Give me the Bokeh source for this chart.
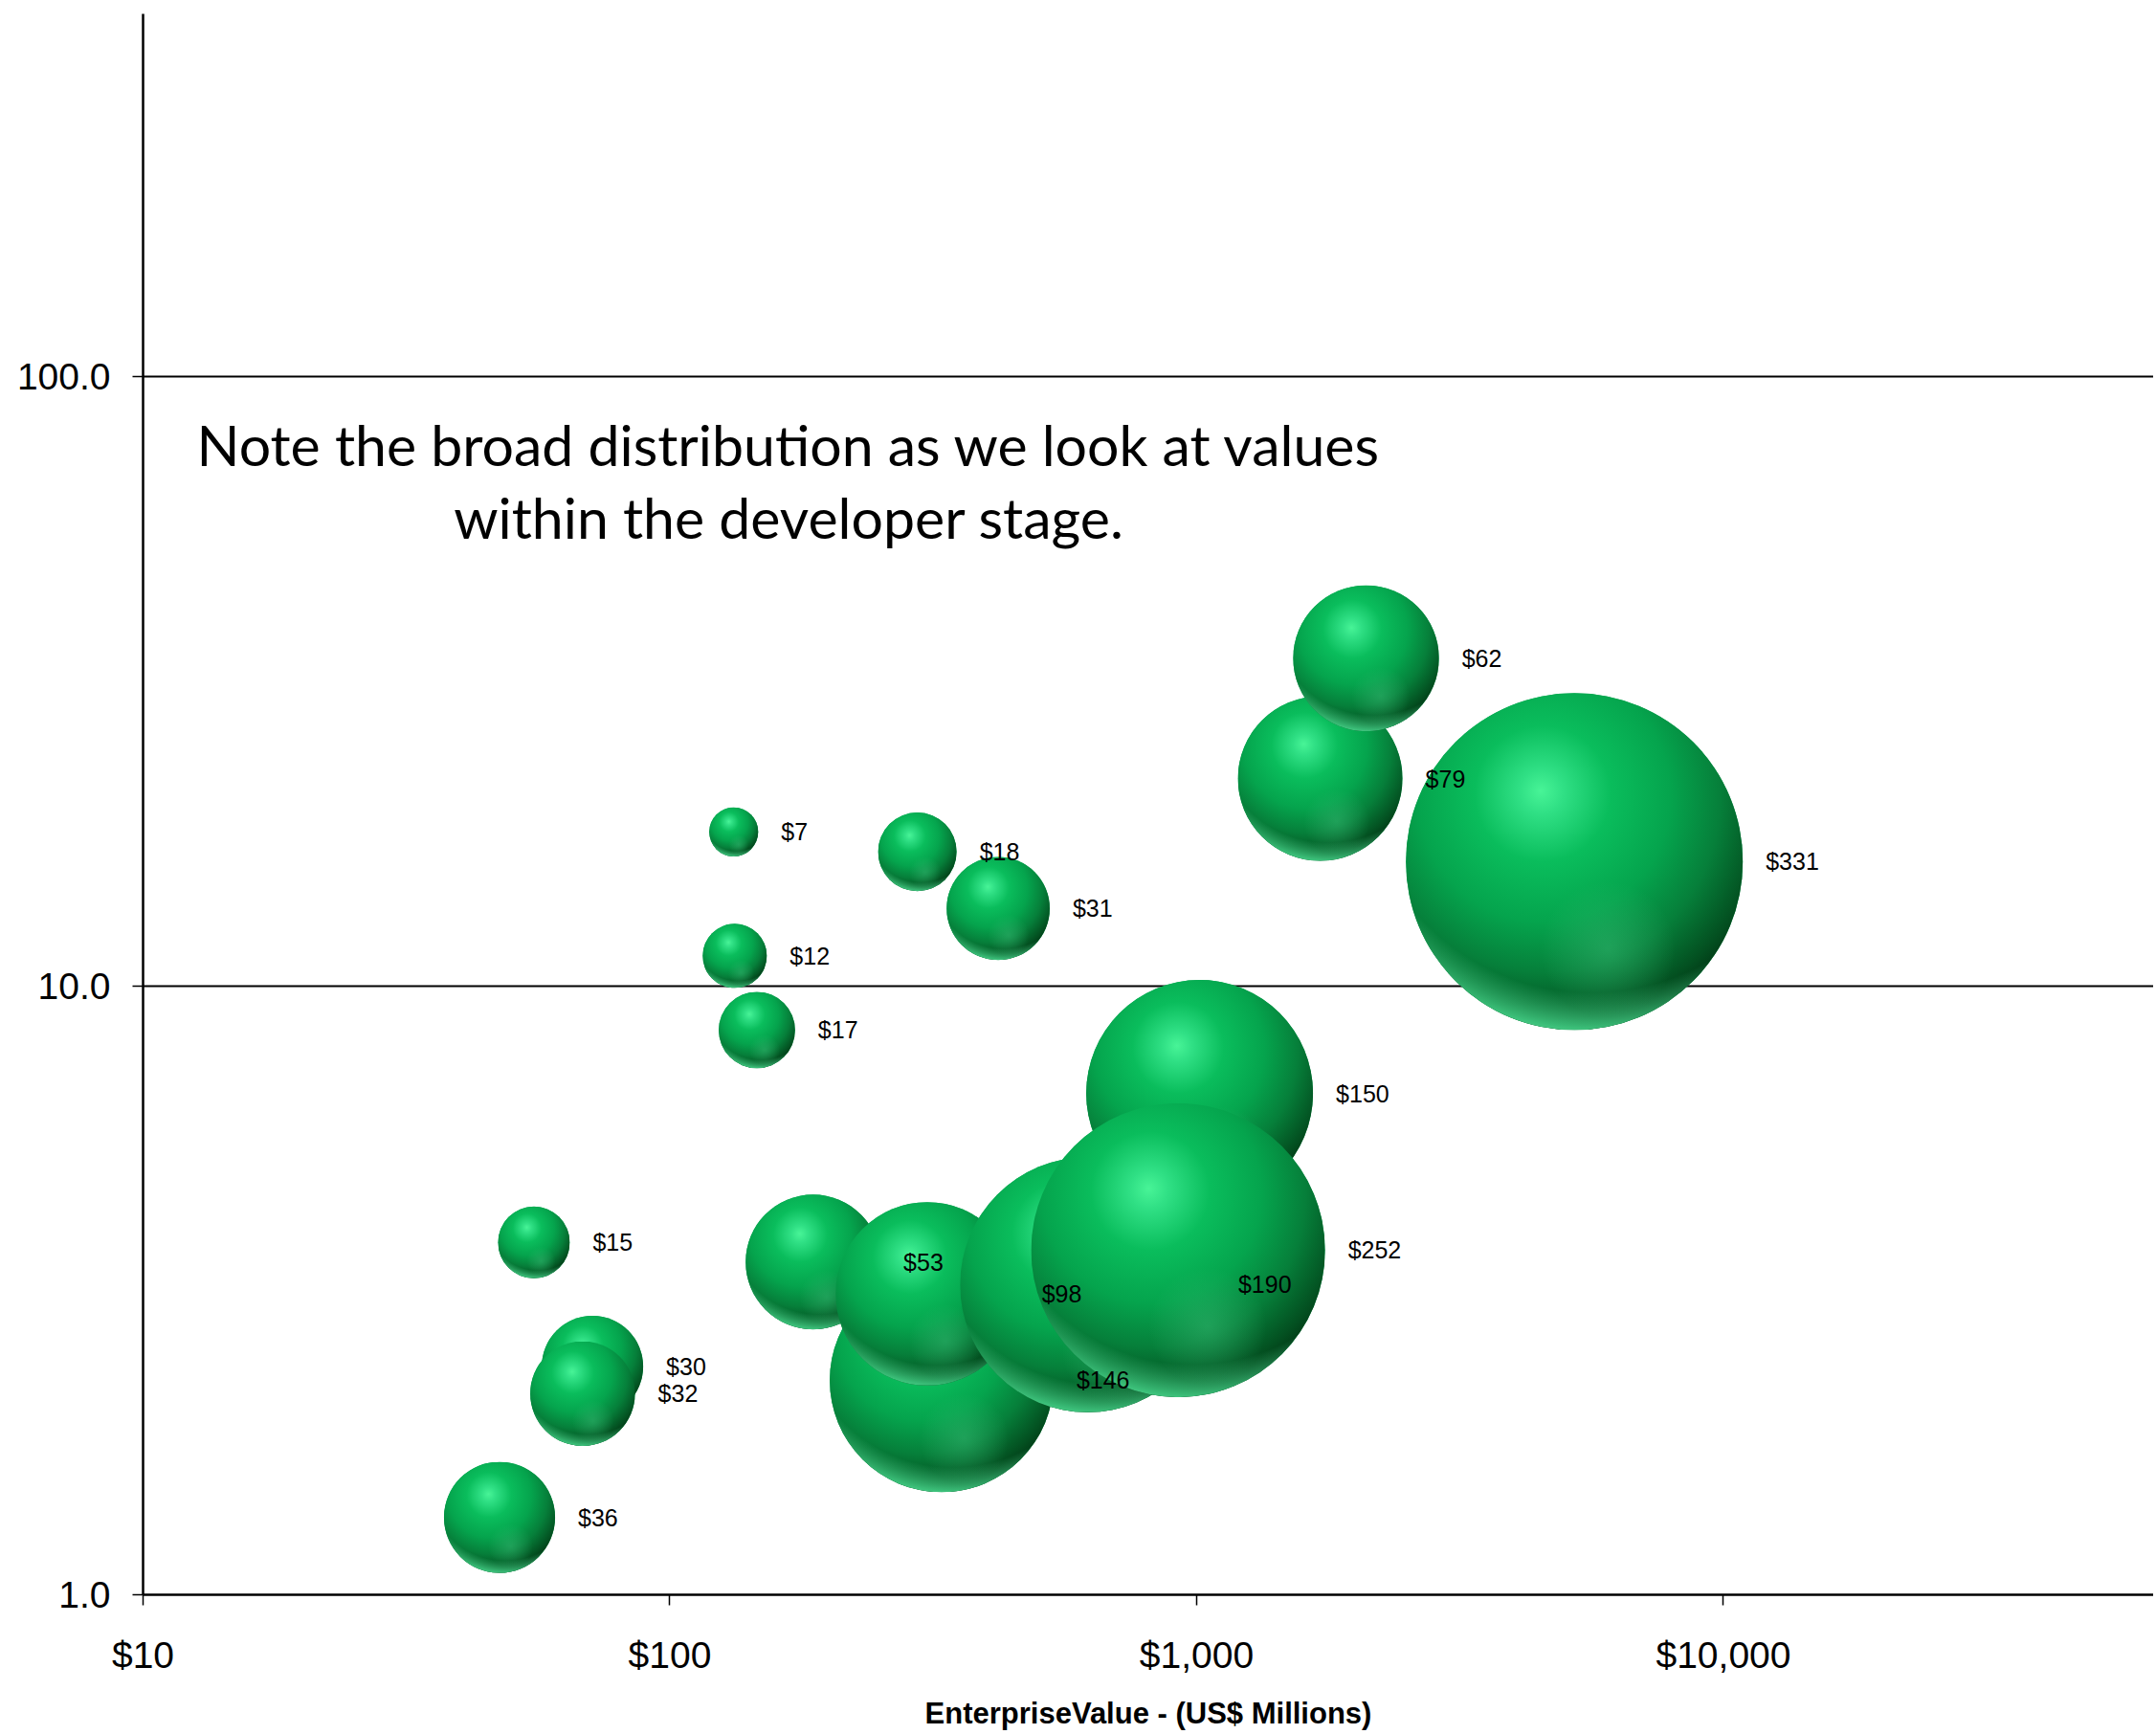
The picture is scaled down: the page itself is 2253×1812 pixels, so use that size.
import base64
import numpy as np
from bokeh.plotting import figure
from bokeh.models import ColumnDataSource, FixedTicker, Label, Range1d
from bokeh.core.properties import value
from bokeh.embed import file_html
from bokeh.resources import INLINE

# ---------------- data (drawing order: back to front) ----------------
bubble_value = [7, 18, 31, 12, 17, 15, 30, 32, 36, 146, 53, 98, 190, 150, 252, 79, 62, 331]
enterprise_value = [132.2, 295, 420, 132.8, 146.3, 55.2, 71.3, 68.3, 47.5,
                    328, 187, 308, 621, 1013, 922, 1716, 2097, 5212]
y_value = [17.9, 16.6, 13.4, 11.2, 8.46, 3.79, 2.37, 2.14, 1.34,
           2.25, 3.52, 3.12, 3.23, 6.66, 3.68, 21.9, 34.5, 16.0]

x_tick_values = [10, 100, 1000, 10000]
x_tick_labels = ["$10", "$100", "$1,000", "$10,000"]
y_tick_values = [1, 10, 100]
y_tick_labels = ["1.0", "10.0", "100.0"]
x_title = "EnterpriseValue - (US$ Millions)"
note_lines = ["Note the broad distribution as we look at values",
              "within the developer stage."]
note_x = 168.4
note_y = [77.4, 58.8]

# ---------------- bubble sizing (area proportional to value) ----------------
SIZE_K = 19.35
diam = SIZE_K * np.sqrt(np.array(bubble_value, dtype=float))

sphere_svg = '''<svg xmlns="http://www.w3.org/2000/svg" width="400" height="400" viewBox="0 0 100 100">
<defs>
<radialGradient id="body" cx="42" cy="32" r="72" fx="40" fy="29" gradientUnits="userSpaceOnUse">
<stop offset="0" stop-color="#48f497"/>
<stop offset="0.09" stop-color="#30e085"/>
<stop offset="0.28" stop-color="#0abd5c"/>
<stop offset="0.52" stop-color="#05a44d"/>
<stop offset="0.72" stop-color="#067f3a"/>
<stop offset="0.90" stop-color="#034f20"/>
<stop offset="1" stop-color="#012f11"/>
</radialGradient>
<radialGradient id="rim" cx="55" cy="20" r="82" gradientUnits="userSpaceOnUse">
<stop offset="0.84" stop-color="#45d489" stop-opacity="0"/>
<stop offset="0.97" stop-color="#45d489" stop-opacity="0.85"/>
<stop offset="1" stop-color="#5ee29c" stop-opacity="0.9"/>
</radialGradient>
<radialGradient id="glow" cx="60" cy="76" r="20" gradientUnits="userSpaceOnUse">
<stop offset="0" stop-color="#3dc07a" stop-opacity="0.45"/>
<stop offset="1" stop-color="#3dc07a" stop-opacity="0"/>
</radialGradient>
</defs>
<circle cx="50" cy="50" r="50" fill="url(#body)"/>
<circle cx="50" cy="50" r="50" fill="url(#rim)"/>
<circle cx="50" cy="50" r="50" fill="url(#glow)"/>
</svg>'''
sphere_url = "data:image/svg+xml;base64," + base64.b64encode(sphere_svg.encode()).decode()

src = ColumnDataSource(dict(
    x=enterprise_value,
    y=y_value,
    v=bubble_value,
    d=diam,
    off=diam / 2 + 24,
    label=["$" + str(v) for v in bubble_value],
    url=[sphere_url] * len(bubble_value),
))

# ---------------- figure ----------------
p = figure(width=2250, height=1810,
           x_axis_type="log", y_axis_type="log",
           x_range=Range1d(10, 65550), y_range=Range1d(1, 394.6),
           output_backend="svg", toolbar_location=None,
           min_border_left=149, min_border_right=0,
           min_border_top=14, min_border_bottom=140)
p.outline_line_color = None
p.background_fill_color = "white"
p.border_fill_color = "white"

# axes
p.xaxis.ticker = FixedTicker(ticks=x_tick_values)
p.yaxis.ticker = FixedTicker(ticks=y_tick_values)
p.xaxis.major_label_overrides = dict(zip(x_tick_values, x_tick_labels))
p.yaxis.major_label_overrides = dict(zip(y_tick_values, y_tick_labels))
for ax in (p.xaxis, p.yaxis):
    ax.axis_line_color = "black"
    ax.axis_line_width = 2.5
    ax.major_tick_line_color = "black"
    ax.major_tick_line_width = 1.5
    ax.major_tick_in = 0
    ax.major_tick_out = 11
    ax.minor_tick_line_color = None
    ax.major_label_text_font = "Liberation Sans"
    ax.major_label_text_font_size = "39px"
    ax.major_label_text_color = "black"
p.xaxis.major_label_standoff = 30
p.yaxis.major_label_standoff = 23
p.xaxis.axis_label = x_title
p.xaxis.axis_label_text_font = "Liberation Sans"
p.xaxis.axis_label_text_font_style = "bold"
p.xaxis.axis_label_text_font_size = "31px"
p.xaxis.axis_label_text_color = "black"
p.xaxis.axis_label_standoff = 19

# grid
p.xgrid.visible = False
p.ygrid.grid_line_color = "black"
p.ygrid.grid_line_width = 2
p.ygrid.grid_line_alpha = 1.0

# bubbles: base circle + shaded sphere image
p.scatter(x="x", y="y", size="d", source=src, marker="circle",
          fill_color="#06a24d", line_color=None)
p.image_url(url="url", x="x", y="y", w="d", h="d", anchor="center",
            w_units="screen", h_units="screen", source=src)

# bubble labels
p.text(x="x", y="y", text="label", source=src, x_offset="off",
       text_align="left", text_baseline="middle",
       text_font=value("Liberation Sans"), text_font_size="25px",
       text_color="black")

# note annotation
for ln, yy in zip(note_lines, note_y):
    p.add_layout(Label(x=note_x, y=yy, text=ln, text_align="center",
                       text_baseline="middle", text_font="Lato",
                       text_font_size="59px", text_color="black"))

open("out.html", "w").write(file_html(p, INLINE))
